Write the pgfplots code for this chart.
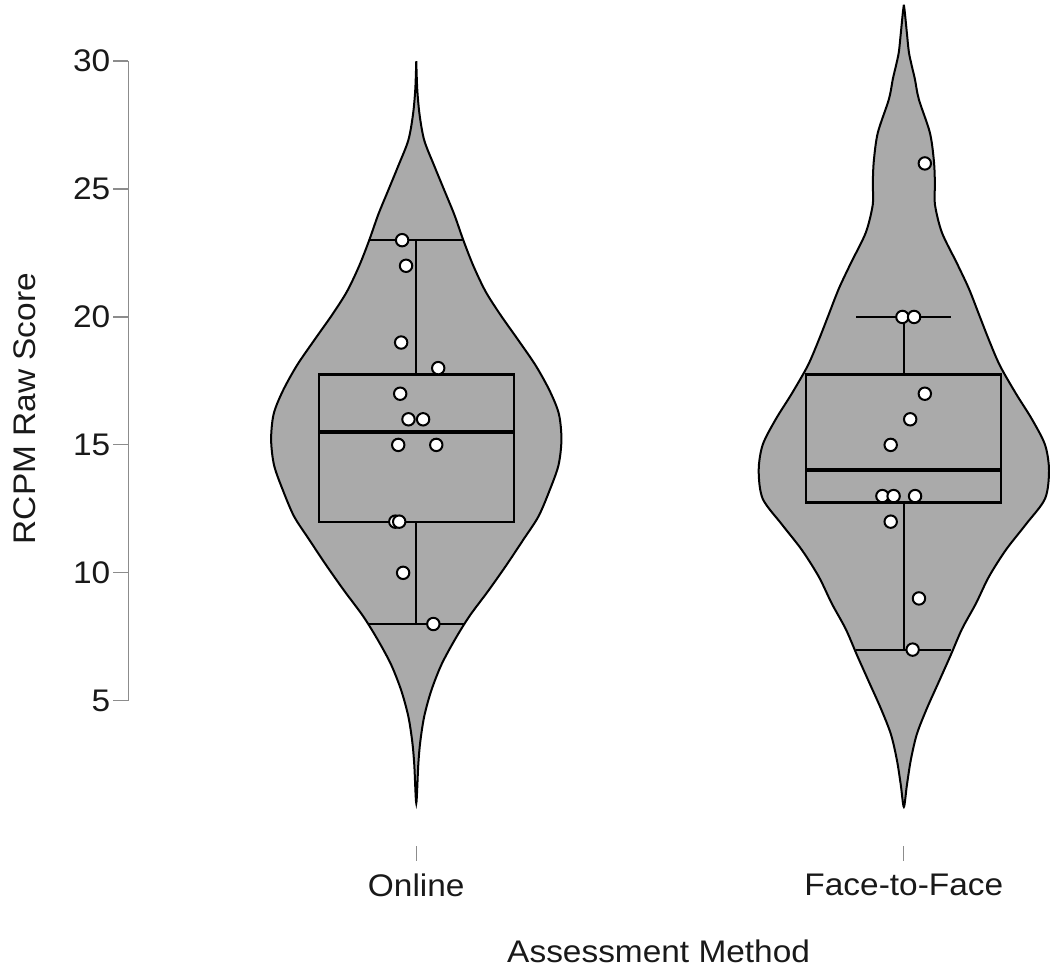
\documentclass[border=0pt]{standalone}
\usepackage{fontspec}
\setmainfont{Liberation Sans}[FakeStretch=1.07]
\usepackage{pgfplots}
\pgfplotsset{compat=1.18}
\usepgfplotslibrary{statistics}
\definecolor{violinfill}{RGB}{170,170,170}
\definecolor{axisgray}{RGB}{140,140,140}
\newcommand{\lblfont}{\fontsize{15.6}{18}\selectfont}
\begin{document}
\begin{tikzpicture}
\begin{axis}[
    scale only axis,
    width=460pt, height=422.5pt,
    xmin=0.409, xmax=2.298,
    ymin=-0.673, ymax=32.387,
    clip=false,
    axis x line*=bottom, axis y line*=left,
    axis line style={draw=none},
    tick align=outside,
    major tick length=7.5pt,
    tick style={axisgray, line width=0.6pt},
    xtick={1,2},
    xticklabels={Online,Face-to-Face},
    ytick={5,10,15,20,25,30},
    /pgf/number format/assume math mode=true,
    tick label style={font=\lblfont, text=black!90},
    yticklabel style={inner xsep=1.2pt},
    xticklabel style={yshift=-3pt},
    every axis y label/.style={at={(axis description cs:-0.112,0.517)}, rotate=90,
        anchor=center, font=\lblfont, text=black!90},
    every axis x label/.style={at={(axis description cs:0.576,-0.124)},
        anchor=center, font=\lblfont, text=black!90},
    xlabel={Assessment Method},
    ylabel={RCPM Raw Score},
    boxplot/draw direction=y,
]
% y axis line (R style, only over the tick range)
\draw[axisgray, line width=0.6pt] (axis cs:0.409,5) -- (axis cs:0.409,30);
\path (axis description cs:-0.1391,-0.1515);

% violin: Online
\addplot[fill=violinfill, draw=black, line width=1pt, smooth] coordinates {
(1,30.0) (0.998,28.9) (0.9932,27.9) (0.9836,26.9) (0.963,25.9) (0.9425,24.95)
(0.922,24.0) (0.9035,23.0) (0.883,22.0) (0.858,21.0) (0.828,20.1) (0.791,19.1)
(0.755,18.1) (0.726,17.1) (0.7074,16.2) (0.7023,15.2) (0.7084,14.2) (0.727,13.2)
(0.7495,12.2) (0.7803,11.3) (0.8152,10.3) (0.8522,9.3) (0.8912,8.3) (0.922,7.35)
(0.9487,6.4) (0.9692,5.4) (0.9836,4.4) (0.9918,3.4) (0.9959,2.5) (1,1.0)
(1.0041,2.5) (1.0082,3.4) (1.0164,4.4) (1.0308,5.4) (1.0513,6.4) (1.078,7.35)
(1.1088,8.3) (1.1478,9.3) (1.1848,10.3) (1.2197,11.3) (1.2505,12.2) (1.273,13.2)
(1.2916,14.2) (1.2977,15.2) (1.2926,16.2) (1.274,17.1) (1.245,18.1) (1.209,19.1)
(1.172,20.1) (1.142,21.0) (1.117,22.0) (1.0965,23.0) (1.078,24.0) (1.0575,24.95)
(1.037,25.9) (1.0164,26.9) (1.0068,27.9) (1.002,28.9) (1,30.0)
};

% violin: Face-to-Face
\addplot[fill=violinfill, draw=black, line width=1pt, smooth] coordinates {
(2,32.2) (1.998,31.9) (1.9938,31.1) (1.9897,30.35) (1.9836,29.8) (1.9774,29.3)
(1.9692,28.5) (1.9466,27.2) (1.9384,26.1) (1.9363,25.2) (1.9363,24.4) (1.922,23.3)
(1.8912,22.1) (1.8665,21.1) (1.846,20.1) (1.8255,19.1) (1.803,18.1) (1.770,17.0)
(1.7372,16.0) (1.7104,15.0) (1.7023,14.0) (1.7104,12.9) (1.7495,11.9) (1.7906,10.9)
(1.8255,9.85) (1.8522,8.8) (1.8809,7.8) (1.9035,6.8) (1.9281,5.75) (1.9528,4.7)
(1.9733,3.7) (1.9856,2.7) (1.9938,1.7) (2,0.85)
(2.0062,1.7) (2.0144,2.7) (2.0267,3.7) (2.0472,4.7) (2.0719,5.75) (2.0965,6.8)
(2.1191,7.8) (2.1478,8.8) (2.1745,9.85) (2.2094,10.9) (2.2505,11.9) (2.2896,12.9)
(2.2977,14.0) (2.2896,15.0) (2.2628,16.0) (2.230,17.0) (2.197,18.1) (2.1745,19.1)
(2.154,20.1) (2.1335,21.1) (2.1088,22.1) (2.078,23.3) (2.0637,24.4) (2.0637,25.2)
(2.0616,26.1) (2.0534,27.2) (2.0308,28.5) (2.0226,29.3) (2.0164,29.8) (2.0103,30.35)
(2.0062,31.1) (2.002,31.9) (2,32.2)
};

% box plots
\pgfplotsset{boxplot/every median/.style={line width=2pt}}
\addplot[black, line width=1.1pt, boxplot prepared={
    draw position=1, lower whisker=8, lower quartile=12, median=15.5,
    upper quartile=17.75, upper whisker=23, box extend=0.4, whisker extend=0.195}]
    coordinates {};
\addplot[black, line width=1.1pt, boxplot prepared={
    draw position=2, lower whisker=7, lower quartile=12.75, median=14,
    upper quartile=17.75, upper whisker=20, box extend=0.4, whisker extend=0.195}]
    coordinates {};

% jittered points
\addplot[only marks, mark=*, mark size=3.1pt,
    mark options={fill=white, draw=black, line width=1pt}] coordinates {
(0.971,23) (0.979,22) (0.969,19) (1.045,18) (0.967,17) (0.984,16) (1.014,16)
(0.963,15) (1.041,15) (0.957,12) (0.965,12) (0.973,10) (1.035,8)
(2.043,26) (1.997,20) (2.021,20) (2.043,17) (2.013,16) (1.973,15)
(1.956,13) (1.979,13) (2.023,13) (1.973,12) (2.031,9) (2.018,7)
};
\end{axis}
\end{tikzpicture}
\end{document}
